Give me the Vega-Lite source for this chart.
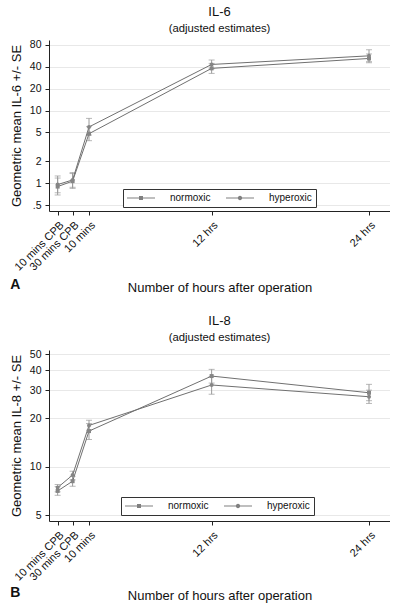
{
  "$schema": "https://vega.github.io/schema/vega-lite/v6.json",
  "padding": {"left": 10, "top": 5, "right": 0, "bottom": 0},
  "resolve": {"legend": {"shape": "independent"}},
  "datasets": {
    "d": [
      {"panel": "IL-6", "time": "10 mins CPB", "t": 0.26, "group": "normoxic", "mean": 0.90, "lo": 0.69, "hi": 1.18},
      {"panel": "IL-6", "time": "10 mins CPB", "t": 0.26, "group": "hyperoxic", "mean": 0.96, "lo": 0.74, "hi": 1.26},
      {"panel": "IL-6", "time": "30 mins CPB", "t": 1.4, "group": "normoxic", "mean": 1.07, "lo": 0.85, "hi": 1.36},
      {"panel": "IL-6", "time": "30 mins CPB", "t": 1.4, "group": "hyperoxic", "mean": 1.11, "lo": 0.88, "hi": 1.40},
      {"panel": "IL-6", "time": "10 mins", "t": 2.65, "group": "normoxic", "mean": 4.8, "lo": 3.85, "hi": 6.0},
      {"panel": "IL-6", "time": "10 mins", "t": 2.65, "group": "hyperoxic", "mean": 5.95, "lo": 4.6, "hi": 7.8},
      {"panel": "IL-6", "time": "12 hrs", "t": 12, "group": "normoxic", "mean": 38, "lo": 32.4, "hi": 44.5},
      {"panel": "IL-6", "time": "12 hrs", "t": 12, "group": "hyperoxic", "mean": 43, "lo": 37.5, "hi": 49.5},
      {"panel": "IL-6", "time": "24 hrs", "t": 24, "group": "normoxic", "mean": 52, "lo": 45.4, "hi": 60},
      {"panel": "IL-6", "time": "24 hrs", "t": 24, "group": "hyperoxic", "mean": 56.5, "lo": 47, "hi": 68.5},
      {"panel": "IL-8", "time": "10 mins CPB", "t": 0.26, "group": "normoxic", "mean": 7.09, "lo": 6.66, "hi": 7.55},
      {"panel": "IL-8", "time": "10 mins CPB", "t": 0.26, "group": "hyperoxic", "mean": 7.44, "lo": 7.0, "hi": 7.77},
      {"panel": "IL-8", "time": "30 mins CPB", "t": 1.4, "group": "normoxic", "mean": 8.15, "lo": 7.58, "hi": 8.75},
      {"panel": "IL-8", "time": "30 mins CPB", "t": 1.4, "group": "hyperoxic", "mean": 8.9, "lo": 8.3, "hi": 9.4},
      {"panel": "IL-8", "time": "10 mins", "t": 2.65, "group": "normoxic", "mean": 16.7, "lo": 14.8, "hi": 18.6},
      {"panel": "IL-8", "time": "10 mins", "t": 2.65, "group": "hyperoxic", "mean": 18.1, "lo": 16.9, "hi": 19.5},
      {"panel": "IL-8", "time": "12 hrs", "t": 12, "group": "normoxic", "mean": 36.7, "lo": 33.2, "hi": 40.4},
      {"panel": "IL-8", "time": "12 hrs", "t": 12, "group": "hyperoxic", "mean": 32.3, "lo": 28.3, "hi": 36.5},
      {"panel": "IL-8", "time": "24 hrs", "t": 24, "group": "normoxic", "mean": 28.9, "lo": 25.8, "hi": 32.6},
      {"panel": "IL-8", "time": "24 hrs", "t": 24, "group": "hyperoxic", "mean": 27.3, "lo": 24.8, "hi": 30.0}
    ]
  },
  "config": {
    "font": "Liberation Sans",
    "view": {"stroke": null},
    "axis": {
      "domainColor": "#222", "tickColor": "#222", "labelColor": "#111", "titleColor": "#111",
      "labelFontSize": 10.5, "titleFontSize": 13, "titleFontWeight": "normal", "tickSize": 4,
      "gridColor": "#e8e8e8", "labelPadding": 4
    },
    "title": {"fontSize": 13, "fontWeight": "normal", "subtitleFontSize": 11.3, "color": "#111", "subtitleColor": "#111", "offset": 6, "subtitlePadding": 4},
    "legend": {
      "title": null, "orient": "none", "direction": "horizontal",
      "strokeColor": "#333", "fillColor": "white", "padding": 4,
      "symbolSize": 100, "symbolOffset": 9, "symbolOpacity": 1, "symbolStrokeWidth": 0, "symbolFillColor": "#808080",
      "labelFontSize": 10, "labelColor": "#111", "labelOffset": 24, "columnPadding": 15
    },
    "concat": {"spacing": 20}
  },
  "vconcat": [
    {
      "title": {"text": "A", "orient": "bottom", "anchor": "start", "fontSize": 14, "fontWeight": "bold", "offset": -16},
      "vconcat": [
        {
          "title": {"text": "IL-6", "subtitle": "(adjusted estimates)"},
          "width": 341, "height": 171,
          "data": {"name": "d"},
          "transform": [{"filter": "datum.panel == 'IL-6'"}],
          "encoding": {
            "x": {"field": "t", "type": "quantitative", "scale": {"domain": [-0.4, 25.6], "nice": false, "zero": false},
              "axis": {"title": "Number of hours after operation", "values": [0.26, 1.4, 2.65, 12, 24], "labelAngle": -45, "labelFontSize": 11, "labelOverlap": false, "grid": false, "titlePadding": 9,
                "labelExpr": "datum.value == 0.26 ? '10 mins CPB' : datum.value == 1.4 ? '30 mins CPB' : datum.value == 2.65 ? '10 mins' : datum.value == 12 ? '12 hrs' : '24 hrs'"}}
          },
          "layer": [
            {
              "mark": {"type": "rule", "color": "#9a9a9a", "strokeWidth": 1},
              "encoding": {
                "y": {"field": "lo", "type": "quantitative", "scale": {"type": "log", "domain": [0.4155, 93.3], "nice": false},
                  "axis": {"title": "Geometric mean IL-6 +/- SE", "values": [0.5, 1, 2, 5, 10, 20, 40, 80], "labelExpr": "datum.value == 0.5 ? '.5' : datum.label", "titlePadding": 6}},
                "y2": {"field": "hi"}
              }
            },
            {
              "mark": {"type": "tick", "orient": "horizontal", "size": 6, "thickness": 1, "color": "#9a9a9a"},
              "encoding": {"y": {"field": "lo", "type": "quantitative"}}
            },
            {
              "mark": {"type": "tick", "orient": "horizontal", "size": 6, "thickness": 1, "color": "#9a9a9a"},
              "encoding": {"y": {"field": "hi", "type": "quantitative"}}
            },
            {
              "mark": {"type": "line", "color": "#707070", "strokeWidth": 1},
              "encoding": {"y": {"field": "mean", "type": "quantitative"}, "detail": {"field": "group"}}
            },
            {
              "transform": [{"filter": "datum.group == 'normoxic'"}],
              "mark": {"type": "point", "filled": true, "shape": "square", "size": 16, "color": "#858585", "opacity": 1},
              "encoding": {"y": {"field": "mean", "type": "quantitative"}}
            },
            {
              "transform": [{"filter": "datum.group == 'hyperoxic'"}],
              "mark": {"type": "point", "filled": true, "shape": "circle", "size": 16, "color": "#858585", "opacity": 1},
              "encoding": {"y": {"field": "mean", "type": "quantitative"}}
            },
            {
              "mark": {"type": "point", "filled": true, "size": 100, "color": "#808080", "opacity": 0},
              "encoding": {
                "y": {"field": "mean", "type": "quantitative"},
                "shape": {"field": "group", "type": "nominal",
                  "scale": {"domain": ["normoxic", "hyperoxic"], "range": ["M-2.8,-0.1H2.8V0.1H-2.8ZM-0.4,-0.4H0.4V0.4H-0.4Z", "M-2.8,-0.1H2.8V0.1H-2.8ZM0.44,0A0.44,0.44 0 1 1 -0.44,0A0.44,0.44 0 1 1 0.44,0Z"]},
                  "legend": {"legendX": 74, "legendY": 149, "symbolOpacity": 1}}
              }
            }
          ]
        }
      ]
    },
    {
      "title": {"text": "B", "orient": "bottom", "anchor": "start", "fontSize": 14, "fontWeight": "bold", "offset": -16},
      "vconcat": [
        {
          "title": {"text": "IL-8", "subtitle": "(adjusted estimates)"},
          "width": 341, "height": 171,
          "data": {"name": "d"},
          "transform": [{"filter": "datum.panel == 'IL-8'"}],
          "encoding": {
            "x": {"field": "t", "type": "quantitative", "scale": {"domain": [-0.4, 25.6], "nice": false, "zero": false},
              "axis": {"title": "Number of hours after operation", "values": [0.26, 1.4, 2.65, 12, 24], "labelAngle": -45, "labelFontSize": 11, "labelOverlap": false, "grid": false, "titlePadding": 7,
                "labelExpr": "datum.value == 0.26 ? '10 mins CPB' : datum.value == 1.4 ? '30 mins CPB' : datum.value == 2.65 ? '10 mins' : datum.value == 12 ? '12 hrs' : '24 hrs'"}}
          },
          "layer": [
            {
              "mark": {"type": "rule", "color": "#9a9a9a", "strokeWidth": 1},
              "encoding": {
                "y": {"field": "lo", "type": "quantitative", "scale": {"type": "log", "domain": [4.61, 53.3], "nice": false},
                  "axis": {"title": "Geometric mean IL-8 +/- SE", "values": [5, 10, 20, 30, 40, 50], "titlePadding": 6}},
                "y2": {"field": "hi"}
              }
            },
            {
              "mark": {"type": "tick", "orient": "horizontal", "size": 6, "thickness": 1, "color": "#9a9a9a"},
              "encoding": {"y": {"field": "lo", "type": "quantitative"}}
            },
            {
              "mark": {"type": "tick", "orient": "horizontal", "size": 6, "thickness": 1, "color": "#9a9a9a"},
              "encoding": {"y": {"field": "hi", "type": "quantitative"}}
            },
            {
              "mark": {"type": "line", "color": "#707070", "strokeWidth": 1},
              "encoding": {"y": {"field": "mean", "type": "quantitative"}, "detail": {"field": "group"}}
            },
            {
              "transform": [{"filter": "datum.group == 'normoxic'"}],
              "mark": {"type": "point", "filled": true, "shape": "square", "size": 16, "color": "#858585", "opacity": 1},
              "encoding": {"y": {"field": "mean", "type": "quantitative"}}
            },
            {
              "transform": [{"filter": "datum.group == 'hyperoxic'"}],
              "mark": {"type": "point", "filled": true, "shape": "circle", "size": 16, "color": "#858585", "opacity": 1},
              "encoding": {"y": {"field": "mean", "type": "quantitative"}}
            },
            {
              "mark": {"type": "point", "filled": true, "size": 100, "color": "#808080", "opacity": 0},
              "encoding": {
                "y": {"field": "mean", "type": "quantitative"},
                "shape": {"field": "group", "type": "nominal",
                  "scale": {"domain": ["normoxic", "hyperoxic"], "range": ["M-2.8,-0.1H2.8V0.1H-2.8ZM-0.4,-0.4H0.4V0.4H-0.4Z", "M-2.8,-0.1H2.8V0.1H-2.8ZM0.44,0A0.44,0.44 0 1 1 -0.44,0A0.44,0.44 0 1 1 0.44,0Z"]},
                  "legend": {"legendX": 72, "legendY": 147, "symbolOpacity": 1}}
              }
            }
          ]
        }
      ]
    }
  ]
}
